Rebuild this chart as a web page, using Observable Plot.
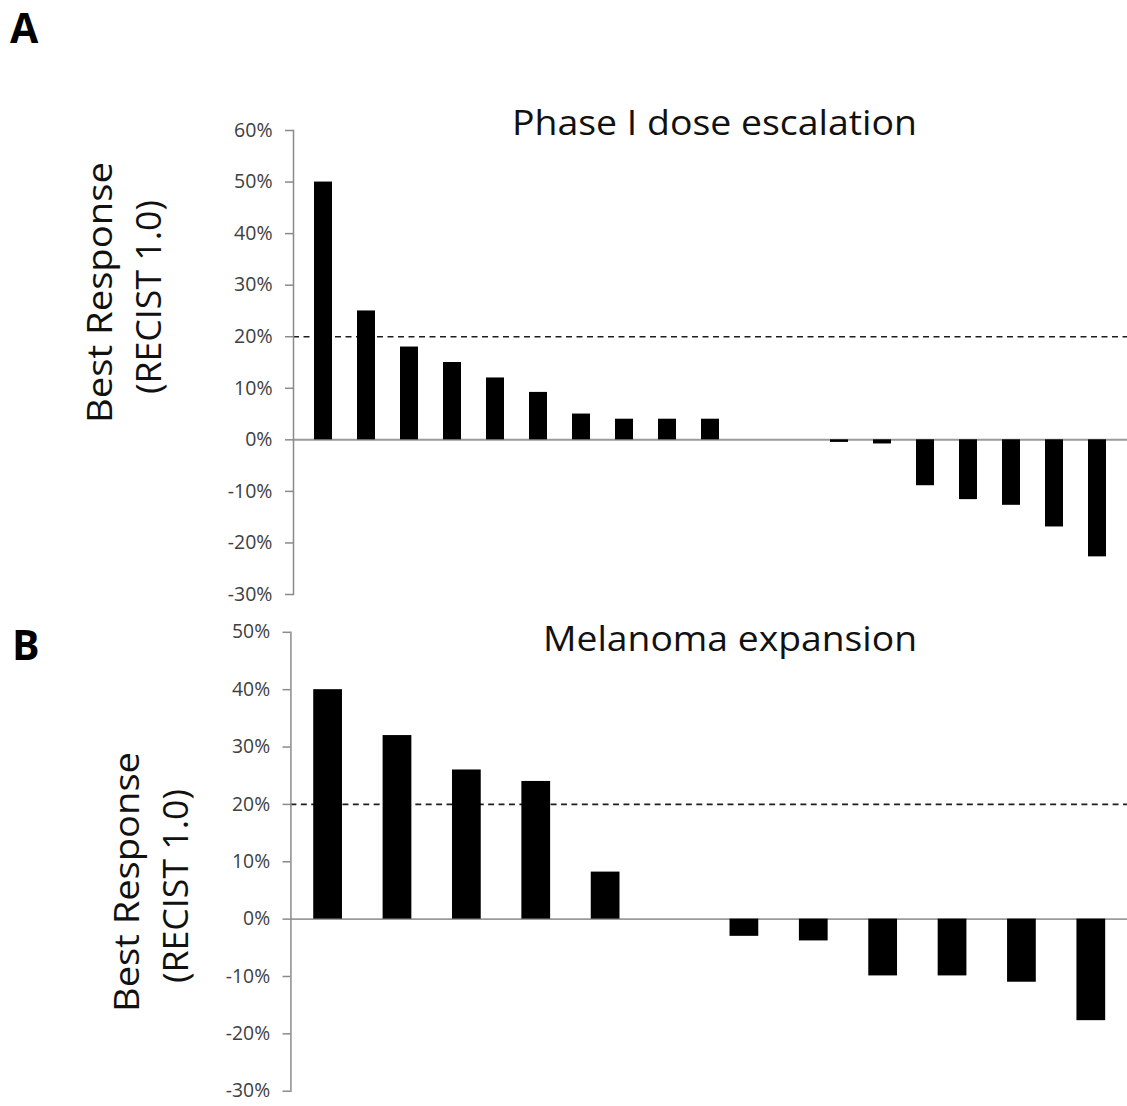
<!DOCTYPE html>
<html>
<head>
<meta charset="utf-8">
<script src="https://cdn.jsdelivr.net/npm/d3@7"></script>
<script src="https://cdn.jsdelivr.net/npm/@observablehq/plot@0.6"></script>
<style>
  html, body { margin: 0; padding: 0; background: #fff; }
  #root { position: relative; width: 1127px; height: 1106px; overflow: hidden; background: #fff; }
  #root > svg { position: absolute; left: 0; }
  #root g[aria-label="y-axis tick label"], #root g[aria-label="y-axis tick label"] text { font-size: 19.5px; font-family: 'Open Sans'; }
</style>
</head>
<body>
<div id="root"></div>
<script>
// ---- Panel A: Phase I dose escalation ----
const patientsA = ["A1","A2","A3","A4","A5","A6","A7","A8","A9","A10","A11","A12","A13","A14","A15","A16","A17","A18","A19"];
const responseA = [50, 25, 18, 15, 12, 9.2, 5, 4, 4, 4, 0, 0, -0.5, -0.8, -8.9, -11.6, -12.7, -16.9, -22.7];
const ticksA = [60, 50, 40, 30, 20, 10, 0, -10, -20, -30];
const thresholdA = [20];
const titleA = "Phase I dose escalation";

// ---- Panel B: Melanoma expansion ----
const patientsB = ["B1","B2","B3","B4","B5","B6","B7","B8","B9","B10","B11","B12"];
const responseB = [40, 32, 26, 24, 8.2, 0, -3, -3.8, -9.9, -9.9, -11, -17.7];
const ticksB = [50, 40, 30, 20, 10, 0, -10, -20, -30];
const thresholdB = [20];
const titleB = "Melanoma expansion";

const yLabel1 = "Best Response";
const yLabel2 = "(RECIST 1.0)";
const panelLetters = ["A", "B"];

function panel({cats, vals, ticks, threshold, width, height, marginTop, marginBottom}) {
  const data = cats.map((c, i) => ({patient: c, value: vals[i]}));
  return Plot.plot({
    width, height,
    marginLeft: 293, marginRight: 0, marginTop, marginBottom,
    style: {background: "transparent", fontFamily: "'Open Sans'", fontSize: "19.5px", overflow: "visible"},
    x: {domain: cats, axis: null, paddingInner: 0.59, paddingOuter: 0.295},
    y: {domain: [d3.min(ticks), d3.max(ticks)]},
    marks: [
      Plot.ruleY(threshold, {stroke: "#1e1e1e", strokeWidth: 1.6, strokeDasharray: "6,4.5"}),
      Plot.ruleY([0], {stroke: "#9a9a9a", strokeWidth: 2}),
      Plot.barY(data, {x: "patient", y: "value", fill: "#000"}),
      Plot.frame({anchor: "left", stroke: "#8a8a8a", strokeWidth: 1.5}),
      Plot.axisY(ticks, {tickSize: 8, tickPadding: 13, tickFormat: d => d + "%", color: "#404040",
        stroke: "#8a8a8a", strokeWidth: 1.5, fontSize: 19.5, label: null})
    ]
  });
}

const root = document.getElementById("root");

const pA = panel({cats: patientsA, vals: responseA, ticks: ticksA, threshold: thresholdA,
  width: 1127, height: 610, marginTop: 130, marginBottom: 16});
pA.style.top = "0px";
root.appendChild(pA);

const pB = panel({cats: patientsB, vals: responseB, ticks: ticksB, threshold: thresholdB,
  width: 1137, height: 496, marginTop: 22, marginBottom: 11});
pB.style.top = "610px";
root.appendChild(pB);

// ---- overlay text: titles, panel letters, y labels ----
const ov = d3.select(root).append("svg")
  .attr("width", 1127).attr("height", 1106)
  .style("top", "0px").style("pointer-events", "none")
  .style("font-family", "'Open Sans'");

const titles = [
  {t: titleA, x: 512, y: 135, len: 405},
  {t: titleB, x: 543, y: 651, len: 374}
];
ov.selectAll("text.title").data(titles).join("text")
  .attr("class", "title")
  .attr("x", d => d.x).attr("y", d => d.y)
  .attr("textLength", d => d.len).attr("lengthAdjust", "spacingAndGlyphs")
  .attr("font-size", 35).attr("fill", "#111")
  .text(d => d.t);

const letters = [
  {t: panelLetters[0], x: 10, y: 43},
  {t: panelLetters[1], x: 12, y: 660}
];
ov.selectAll("text.letter").data(letters).join("text")
  .attr("class", "letter")
  .attr("x", d => d.x).attr("y", d => d.y)
  .attr("font-size", 41).attr("font-weight", 700).attr("fill", "#000")
  .text(d => d.t);

const ylabs = [
  {t: yLabel1, x: 112, y: 423, len: 261},
  {t: yLabel2, x: 161, y: 394, len: 194},
  {t: yLabel1, x: 139, y: 1012, len: 260},
  {t: yLabel2, x: 188, y: 983, len: 194}
];
ov.selectAll("text.ylab").data(ylabs).join("text")
  .attr("class", "ylab")
  .attr("transform", d => `translate(${d.x},${d.y}) rotate(-90)`)
  .attr("textLength", d => d.len).attr("lengthAdjust", "spacingAndGlyphs")
  .attr("font-size", 35).attr("fill", "#111")
  .text(d => d.t);
</script>
</body>
</html>
